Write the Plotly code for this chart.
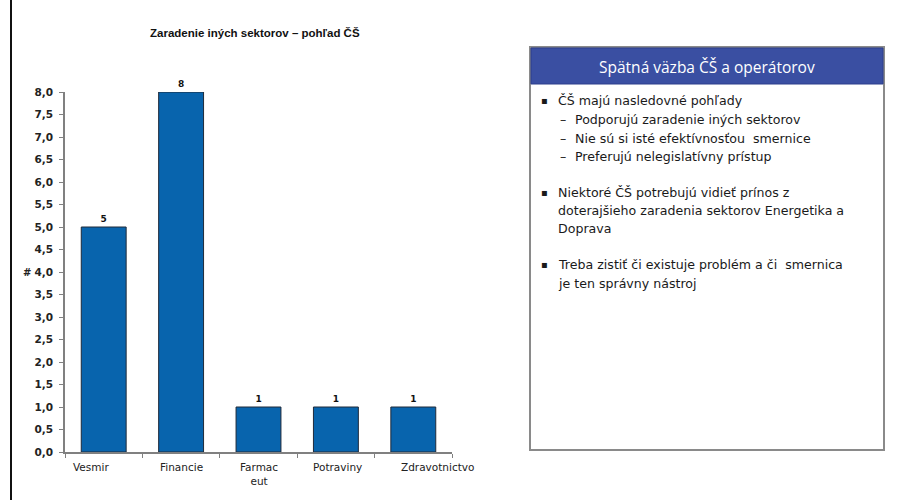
import plotly.graph_objects as go

# Data
categories = ["Vesmir", "Financie", "Farmaceut", "Potraviny", "Zdravotnictvo"]
tick_labels = ["Vesmir", "Financie", "Farmac<br>eut", "Potraviny", "Zdravotnictvo"]
label_shift = [-13, 0, 0, 2, 24]  # horizontal nudge of each category label, px
values = [5, 8, 1, 1, 1]
y_ticks = [i * 0.5 for i in range(17)]

chart_title = "Zaradenie iných sektorov – pohľad ČŠ"
box_title = "Spätná väzba ČŠ a operátorov"
# (kind, text): "b" = bullet line, "s" = sub-item, "c" = continuation
box_lines = [
    ("b", "ČŠ majú nasledovné pohľady"),
    ("s", "Podporujú zaradenie iných sektorov"),
    ("s", "Nie sú si isté efektívnosťou  smernice"),
    ("s", "Preferujú nelegislatívny prístup"),
    ("gap", ""),
    ("b", "Niektoré ČŠ potrebujú vidieť prínos z"),
    ("c", "doterajšieho zaradenia sektorov Energetika a"),
    ("c", "Doprava"),
    ("gap", ""),
    ("b", "Treba zistiť či existuje problém a či  smernica"),
    ("c", "je ten správny nástroj"),
]

W, H = 919, 500


def px(x):
    return x / W


def py(y):
    return 1 - y / H


fig = go.Figure()
fig.add_trace(go.Bar(
    x=categories,
    y=values,
    width=0.58,
    marker=dict(color="#0864ad", line=dict(color="#1f2a3a", width=1)),
    text=[str(v) for v in values],
    textposition="outside",
    cliponaxis=False,
    textfont=dict(family="DejaVu Sans", size=9, color="#111111", weight="bold"),
    hoverinfo="skip",
))

axis_col = "#808080"
fig.update_layout(
    width=W, height=H,
    margin=dict(l=0, r=0, t=0, b=0, autoexpand=False),
    paper_bgcolor="white", plot_bgcolor="white",
    separators=",.",
    showlegend=False,
    xaxis=dict(
        domain=[px(65), px(452)],
        type="category",
        categoryorder="array", categoryarray=categories,
        range=[-0.5, len(categories) - 0.5],
        showticklabels=False,
        automargin=False,
        showline=True, linecolor=axis_col, linewidth=1.5,
        ticks="outside", tickson="boundaries", ticklen=4, tickcolor=axis_col,
        showgrid=False, zeroline=False, fixedrange=True,
    ),
    yaxis=dict(
        domain=[py(452), py(92)],
        range=[0, 8],
        tickvals=y_ticks,
        tickformat=".1f",
        automargin=False,
        showline=True, linecolor=axis_col, linewidth=1.5,
        ticks="outside", ticklen=4, tickcolor=axis_col,
        ticklabelstandoff=4,
        tickfont=dict(family="DejaVu Sans", size=10.5, color="#222222", weight="bold"),
        showgrid=False, zeroline=False, fixedrange=True,
    ),
)

shapes = [
    # left frame line
    dict(type="line", xref="paper", yref="paper", x0=px(11), x1=px(11), y0=0, y1=1,
         line=dict(color="#111111", width=2)),
    # feedback box
    dict(type="rect", xref="paper", yref="paper", x0=px(530), x1=px(884), y0=py(450), y1=py(47),
         line=dict(color="#8a8a8a", width=2), fillcolor="white"),
    # box header
    dict(type="rect", xref="paper", yref="paper", x0=px(531), x1=px(883), y0=py(84), y1=py(48),
         line=dict(color="#2c3f8c", width=1), fillcolor="#3a4fa2"),
]
fig.update_layout(shapes=shapes)

annotations = [
    dict(text=chart_title, xref="paper", yref="paper",
         x=px(255), y=py(33), showarrow=False, xanchor="center", yanchor="middle",
         font=dict(family="Liberation Sans, Arial", size=11.5, color="#111111", weight="bold")),
    dict(text="#", xref="paper", yref="paper",
         x=px(27), y=py(272), showarrow=False, xanchor="center", yanchor="middle",
         font=dict(family="DejaVu Sans", size=10, color="#222222", weight="bold")),
    dict(text=box_title, xref="paper", yref="paper",
         x=px(707), y=py(67), showarrow=False, xanchor="center", yanchor="middle",
         font=dict(family="Open Sans, Lato, sans-serif", size=15.5, color="white")),
]

# category labels under the x axis
for cat, lab, dx in zip(categories, tick_labels, label_shift):
    annotations.append(dict(
        text=lab, xref="x", yref="paper", x=cat, y=py(459), xshift=dx,
        showarrow=False, xanchor="center", yanchor="top",
        font=dict(family="DejaVu Sans", size=10.5, color="#222222"),
    ))

text_font = dict(family="DejaVu Sans", size=12.6, color="#1a1a1a")
bullet_font = dict(family="DejaVu Sans", size=10, color="#1a1a1a")
y = 101
for kind, txt in box_lines:
    if kind == "gap":
        y += 17
        continue
    if kind == "b":
        annotations.append(dict(text="▪", xref="paper", yref="paper", x=px(539), y=py(y),
                                showarrow=False, xanchor="left", yanchor="middle", font=bullet_font))
        annotations.append(dict(text=txt, xref="paper", yref="paper", x=px(556), y=py(y),
                                showarrow=False, xanchor="left", yanchor="middle", font=text_font))
    elif kind == "s":
        annotations.append(dict(text="–", xref="paper", yref="paper", x=px(558), y=py(y),
                                showarrow=False, xanchor="left", yanchor="middle", font=text_font))
        annotations.append(dict(text=txt, xref="paper", yref="paper", x=px(573), y=py(y),
                                showarrow=False, xanchor="left", yanchor="middle", font=text_font))
    else:
        annotations.append(dict(text=txt, xref="paper", yref="paper", x=px(556), y=py(y),
                                showarrow=False, xanchor="left", yanchor="middle", font=text_font))
    y += 18.5

fig.update_layout(annotations=annotations)

fig.write_html("out.html")
